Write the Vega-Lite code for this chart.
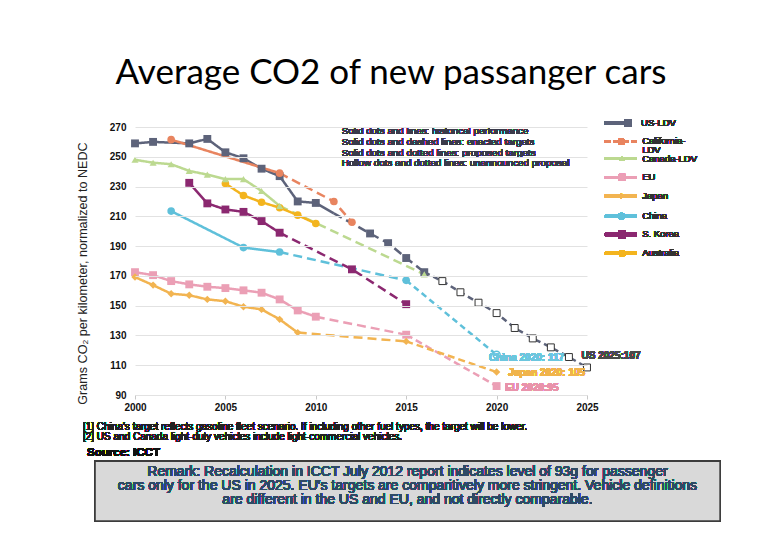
{
  "$schema": "https://vega.github.io/schema/vega-lite/v6.json",
  "width": 452,
  "height": 268,
  "autosize": {"type": "none"},
  "padding": {"left": 135, "top": 127, "right": 193, "bottom": 145},
  "background": "white",
  "config": {"view": {"stroke": null}, "font": "Arial",
             "axis": {"labelFont": "Arial", "labelFontWeight": "bold", "labelFontSize": 10, "labelColor": "#111111", "labelOverlap": false, "labelBound": false, "labelFlush": false, "titleFont": "Arial"}},
  "title": {"text": "Average CO2 of new passanger cars", "font": "Lato", "fontSize": 35, "fontWeight": "normal", "color": "#000000", "anchor": "middle", "dx": 30, "offset": 27},
  "datasets": {
    "d": [
      {"s":"US-LDV","yr":2000,"v":259,"st":"historical","pt":1},
      {"s":"US-LDV","yr":2001,"v":260,"st":"historical","pt":1},
      {"s":"US-LDV","yr":2003,"v":259,"st":"historical","pt":1},
      {"s":"US-LDV","yr":2004,"v":262,"st":"historical","pt":1},
      {"s":"US-LDV","yr":2005,"v":253,"st":"historical","pt":1},
      {"s":"US-LDV","yr":2006,"v":249,"st":"historical","pt":1},
      {"s":"US-LDV","yr":2007,"v":242,"st":"historical","pt":1},
      {"s":"US-LDV","yr":2008,"v":237,"st":"historical","pt":1},
      {"s":"US-LDV","yr":2009,"v":220,"st":"historical","pt":1},
      {"s":"US-LDV","yr":2010,"v":219,"st":"historical","pt":1},
      {"s":"US-LDV","yr":2011,"v":212,"st":"historical","pt":0},
      {"s":"US-LDV","yr":2011,"v":212,"st":"enacted","pt":0},
      {"s":"US-LDV","yr":2013,"v":198.5,"st":"enacted","pt":1},
      {"s":"US-LDV","yr":2014,"v":192,"st":"enacted","pt":1},
      {"s":"US-LDV","yr":2015,"v":182,"st":"enacted","pt":1},
      {"s":"US-LDV","yr":2016,"v":172.5,"st":"enacted","pt":1},
      {"s":"US-LDV","yr":2016,"v":172.5,"st":"unannounced","pt":0},
      {"s":"US-LDV","yr":2017,"v":166.5,"st":"unannounced","pt":1},
      {"s":"US-LDV","yr":2018,"v":159,"st":"unannounced","pt":1},
      {"s":"US-LDV","yr":2019,"v":152,"st":"unannounced","pt":1},
      {"s":"US-LDV","yr":2020,"v":145,"st":"unannounced","pt":1},
      {"s":"US-LDV","yr":2021,"v":135,"st":"unannounced","pt":1},
      {"s":"US-LDV","yr":2022,"v":128,"st":"unannounced","pt":1},
      {"s":"US-LDV","yr":2023,"v":122,"st":"unannounced","pt":1},
      {"s":"US-LDV","yr":2024,"v":115.5,"st":"unannounced","pt":1},
      {"s":"US-LDV","yr":2025,"v":108.5,"st":"unannounced","pt":1},
      {"s":"California-LDV","yr":2002,"v":261.5,"st":"historical","pt":1},
      {"s":"California-LDV","yr":2008,"v":239,"st":"historical","pt":1},
      {"s":"California-LDV","yr":2008,"v":239,"st":"enacted","pt":0},
      {"s":"California-LDV","yr":2011,"v":220,"st":"enacted","pt":1},
      {"s":"California-LDV","yr":2012,"v":206,"st":"enacted","pt":1},
      {"s":"Canada-LDV","yr":2000,"v":248,"st":"historical","pt":1},
      {"s":"Canada-LDV","yr":2001,"v":246,"st":"historical","pt":1},
      {"s":"Canada-LDV","yr":2002,"v":245,"st":"historical","pt":1},
      {"s":"Canada-LDV","yr":2003,"v":240.5,"st":"historical","pt":1},
      {"s":"Canada-LDV","yr":2004,"v":238,"st":"historical","pt":1},
      {"s":"Canada-LDV","yr":2005,"v":235,"st":"historical","pt":1},
      {"s":"Canada-LDV","yr":2006,"v":235,"st":"historical","pt":1},
      {"s":"Canada-LDV","yr":2007,"v":227,"st":"historical","pt":1},
      {"s":"Canada-LDV","yr":2008,"v":217,"st":"historical","pt":1},
      {"s":"Canada-LDV","yr":2008,"v":217,"st":"enacted","pt":0},
      {"s":"Canada-LDV","yr":2016,"v":171,"st":"enacted","pt":1},
      {"s":"EU","yr":2000,"v":172.5,"st":"historical","pt":1},
      {"s":"EU","yr":2001,"v":170.5,"st":"historical","pt":1},
      {"s":"EU","yr":2002,"v":166.5,"st":"historical","pt":1},
      {"s":"EU","yr":2003,"v":164.3,"st":"historical","pt":1},
      {"s":"EU","yr":2004,"v":162.7,"st":"historical","pt":1},
      {"s":"EU","yr":2005,"v":161.8,"st":"historical","pt":1},
      {"s":"EU","yr":2006,"v":160.3,"st":"historical","pt":1},
      {"s":"EU","yr":2007,"v":158.7,"st":"historical","pt":1},
      {"s":"EU","yr":2008,"v":154.2,"st":"historical","pt":1},
      {"s":"EU","yr":2009,"v":146.8,"st":"historical","pt":1},
      {"s":"EU","yr":2010,"v":142.6,"st":"historical","pt":1},
      {"s":"EU","yr":2010,"v":142.6,"st":"enacted","pt":0},
      {"s":"EU","yr":2015,"v":130.5,"st":"enacted","pt":1},
      {"s":"EU","yr":2015,"v":130.5,"st":"proposed","pt":0},
      {"s":"EU","yr":2020,"v":96,"st":"proposed","pt":1},
      {"s":"Japan","yr":2000,"v":169.2,"st":"historical","pt":1},
      {"s":"Japan","yr":2001,"v":163.8,"st":"historical","pt":1},
      {"s":"Japan","yr":2002,"v":158,"st":"historical","pt":1},
      {"s":"Japan","yr":2003,"v":157,"st":"historical","pt":1},
      {"s":"Japan","yr":2004,"v":154.2,"st":"historical","pt":1},
      {"s":"Japan","yr":2005,"v":153,"st":"historical","pt":1},
      {"s":"Japan","yr":2006,"v":149.3,"st":"historical","pt":1},
      {"s":"Japan","yr":2007,"v":147.5,"st":"historical","pt":1},
      {"s":"Japan","yr":2008,"v":140.8,"st":"historical","pt":1},
      {"s":"Japan","yr":2009,"v":131.9,"st":"historical","pt":1},
      {"s":"Japan","yr":2009,"v":131.9,"st":"enacted","pt":0},
      {"s":"Japan","yr":2015,"v":126,"st":"enacted","pt":1},
      {"s":"Japan","yr":2015,"v":126,"st":"proposed","pt":0},
      {"s":"Japan","yr":2020,"v":105.4,"st":"proposed","pt":1},
      {"s":"China","yr":2002,"v":213.5,"st":"historical","pt":1},
      {"s":"China","yr":2006,"v":189,"st":"historical","pt":1},
      {"s":"China","yr":2008,"v":186,"st":"historical","pt":1},
      {"s":"China","yr":2008,"v":186,"st":"enacted","pt":0},
      {"s":"China","yr":2015,"v":167,"st":"enacted","pt":1},
      {"s":"China","yr":2015,"v":167,"st":"unannounced","pt":0},
      {"s":"China","yr":2020,"v":117,"st":"unannounced","pt":1},
      {"s":"S. Korea","yr":2003,"v":232.5,"st":"historical","pt":1},
      {"s":"S. Korea","yr":2004,"v":218.7,"st":"historical","pt":1},
      {"s":"S. Korea","yr":2005,"v":214.6,"st":"historical","pt":1},
      {"s":"S. Korea","yr":2006,"v":213,"st":"historical","pt":1},
      {"s":"S. Korea","yr":2007,"v":206.8,"st":"historical","pt":1},
      {"s":"S. Korea","yr":2008,"v":199,"st":"historical","pt":1},
      {"s":"S. Korea","yr":2008,"v":199,"st":"enacted","pt":0},
      {"s":"S. Korea","yr":2012,"v":174.4,"st":"enacted","pt":1},
      {"s":"S. Korea","yr":2015,"v":151,"st":"enacted","pt":1},
      {"s":"Australia","yr":2005,"v":232,"st":"historical","pt":1},
      {"s":"Australia","yr":2006,"v":224,"st":"historical","pt":1},
      {"s":"Australia","yr":2007,"v":219.5,"st":"historical","pt":1},
      {"s":"Australia","yr":2008,"v":215.8,"st":"historical","pt":1},
      {"s":"Australia","yr":2009,"v":210.8,"st":"historical","pt":1},
      {"s":"Australia","yr":2010,"v":205.2,"st":"historical","pt":1}
    ]
  },
  "data": {"name": "d"},
  "layer": [
    {
      "mark": {"type": "line", "strokeWidth": 2.5},
      "encoding": {
        "x": {"field": "yr", "type": "quantitative", "scale": {"domain": [2000, 2025], "nice": false, "zero": false},
              "axis": {"tickCount": 5, "format": "d", "grid": false, "title": null, "domainColor": "#c8c8c8", "tickColor": "#c8c8c8", "tickSize": 4, "labelPadding": 3}},
        "y": {"field": "v", "type": "quantitative", "scale": {"domain": [90, 270], "nice": false, "zero": false},
              "axis": {"values": [90, 110, 130, 150, 170, 190, 210, 230, 250, 270], "tickCount": 12, "labelOverlap": false, "grid": true, "gridColor": "#e2e2e2", "domain": false, "ticks": false, "labelPadding": 9, "zindex": 1,
                       "title": "Grams CO₂ per kilometer, normalized to NEDC", "titleFontSize": 12.6, "titleFontWeight": "normal", "titleColor": "#222222", "titleX": -53, "titleY": 146, "titleBaseline": "middle"}},
        "stroke": {"field": "s", "type": "nominal", "legend": null,
                   "scale": {"domain": ["US-LDV","California-LDV","Canada-LDV","EU","Japan","China","S. Korea","Australia"], "range": ["#5d637a","#e8845f","#bcd990","#eb9fb5","#f2b451","#5fc0da","#8b2870","#f3b41e"]}},
        "strokeDash": {"field": "st", "type": "nominal", "legend": null,
                       "scale": {"domain": ["historical","enacted","proposed","unannounced"], "range": [[1,0],[9,5],[7,4],[6,4]]}}
      }
    },
    {
      "transform": [{"filter": "datum.pt == 1 && datum.st != 'unannounced' && indexof(['US-LDV','EU','S. Korea'], datum.s) >= 0"}],
      "mark": {"type": "point", "shape": "square", "filled": true, "size": 62, "opacity": 1},
      "encoding": {"x": {"field": "yr", "type": "quantitative"}, "y": {"field": "v", "type": "quantitative"},
                   "fill": {"field": "s", "type": "nominal", "legend": null, "scale": {"domain": ["US-LDV","California-LDV","Canada-LDV","EU","Japan","China","S. Korea","Australia"], "range": ["#5d637a","#e8845f","#bcd990","#eb9fb5","#f2b451","#5fc0da","#8b2870","#f3b41e"]}}}
    },
    {
      "transform": [{"filter": "datum.pt == 1 && datum.st != 'unannounced' && indexof(['California-LDV','China','Australia'], datum.s) >= 0"}],
      "mark": {"type": "point", "shape": "circle", "filled": true, "size": 58, "opacity": 1},
      "encoding": {"x": {"field": "yr", "type": "quantitative"}, "y": {"field": "v", "type": "quantitative"},
                   "fill": {"field": "s", "type": "nominal", "legend": null}}
    },
    {
      "transform": [{"filter": "datum.pt == 1 && datum.s == 'Canada-LDV'"}],
      "mark": {"type": "point", "shape": "triangle-up", "filled": true, "size": 50, "opacity": 1},
      "encoding": {"x": {"field": "yr", "type": "quantitative"}, "y": {"field": "v", "type": "quantitative"},
                   "fill": {"field": "s", "type": "nominal", "legend": null}}
    },
    {
      "transform": [{"filter": "datum.pt == 1 && datum.s == 'Japan'"}],
      "mark": {"type": "point", "shape": "diamond", "filled": true, "size": 55, "opacity": 1},
      "encoding": {"x": {"field": "yr", "type": "quantitative"}, "y": {"field": "v", "type": "quantitative"},
                   "fill": {"field": "s", "type": "nominal", "legend": null}}
    },
    {
      "transform": [{"filter": "datum.pt == 1 && datum.st == 'unannounced' && datum.s == 'US-LDV'"}],
      "mark": {"type": "point", "shape": "square", "filled": false, "fill": "white", "stroke": "#333333", "strokeWidth": 1, "size": 48, "opacity": 1},
      "encoding": {"x": {"field": "yr", "type": "quantitative"}, "y": {"field": "v", "type": "quantitative"}}
    },
    {
      "transform": [{"filter": "datum.pt == 1 && datum.st == 'unannounced' && datum.s == 'China'"}],
      "mark": {"type": "point", "shape": "circle", "filled": false, "fill": "white", "strokeWidth": 1.5, "size": 50, "opacity": 1},
      "encoding": {"x": {"field": "yr", "type": "quantitative"}, "y": {"field": "v", "type": "quantitative"},
                   "stroke": {"field": "s", "type": "nominal", "legend": null}}
    },
    {
      "mark": {"type": "text", "text": "China 2020: 117", "align": "left", "baseline": "middle", "font": "Arial", "fontWeight": "bold", "fontSize": 10, "color": "#6cc6de"},
      "encoding": {"x": {"datum": 2019.58}, "y": {"datum": 114.6}}
    },
    {
      "mark": {"type": "text", "text": "Japan 2020: 105", "align": "left", "baseline": "middle", "font": "Arial", "fontWeight": "bold", "fontSize": 10, "color": "#f0b44c"},
      "encoding": {"x": {"datum": 2020.65}, "y": {"datum": 105}}
    },
    {
      "mark": {"type": "text", "text": "EU 2020:95", "align": "left", "baseline": "middle", "font": "Arial", "fontWeight": "bold", "fontSize": 10, "color": "#e993ab"},
      "encoding": {"x": {"datum": 2020.47}, "y": {"datum": 95}}
    },
    {
      "mark": {"type": "text", "text": "US 2025:107", "align": "left", "baseline": "middle", "font": "Arial", "fontWeight": "bold", "fontSize": 10, "color": "#4a4a4a"},
      "encoding": {"x": {"datum": 2024.7}, "y": {"datum": 116.2}}
    },
    {
      "mark": {"type": "text", "text": ["Solid dots and lines: historical performance", "Solid dots and dashed lines: enacted targets", "Solid dots and dotted lines: proposed targets", "Hollow dots and dotted lines: unannounced proposal"], "align": "left", "baseline": "alphabetic", "lineHeight": 10.8, "font": "Arial", "fontSize": 9.8, "color": "#3a3a4a"},
      "encoding": {"x": {"datum": 2011.43}, "y": {"datum": 265.3}}
    },
    {
      "mark": {"type": "text", "text": ["[1] China's target reflects gasoline fleet scenario. If including other fuel types, the target will be lower.", "[2] US and Canada light-duty vehicles include light-commercial vehicles."], "align": "left", "baseline": "alphabetic", "lineHeight": 10, "font": "Arial", "fontSize": 10, "color": "#222222"},
      "encoding": {"x": {"datum": 1997.12}, "y": {"datum": 66.5}}
    },
    {
      "mark": {"type": "text", "text": "Source: ICCT", "align": "left", "baseline": "alphabetic", "font": "Arial", "fontWeight": "bold", "fontSize": 11.5, "color": "#111111"},
      "encoding": {"x": {"datum": 1997.35}, "y": {"datum": 48.7}}
    },
    {
      "mark": {"type": "rect", "fill": "#d9d9d9", "stroke": "#3c3c3c", "strokeWidth": 1.5},
      "encoding": {"x": {"datum": 1997.79}, "x2": {"datum": 2032.36}, "y": {"datum": 45.5}, "y2": {"datum": 5.3}}
    },
    {
      "mark": {"type": "text", "text": ["Remark: Recalculation in ICCT July 2012 report indicates level of 93g for passenger", "cars only for the US in 2025. EU's targets are comparitively more stringent. Vehicle definitions", "are different in the US and EU, and not directly comparable."], "align": "center", "baseline": "alphabetic", "lineHeight": 14.2, "font": "Arial", "fontSize": 14, "color": "#2e4a66"},
      "encoding": {"x": {"datum": 2015.07}, "y": {"datum": 35.6}}
    },
    {"mark": {"type": "rule", "color": "#5d637a", "strokeWidth": 3}, "encoding": {"x": {"datum": 2025.99}, "x2": {"datum": 2027.3}, "y": {"datum": 272.75}}},
    {"mark": {"type": "rule", "color": "#e8845f", "strokeWidth": 3, "strokeDash": [6, 3]}, "encoding": {"x": {"datum": 2025.99}, "x2": {"datum": 2027.76}, "y": {"datum": 260.3}}},
    {"mark": {"type": "rule", "color": "#bcd990", "strokeWidth": 3}, "encoding": {"x": {"datum": 2025.99}, "x2": {"datum": 2027.76}, "y": {"datum": 248.8}}},
    {"mark": {"type": "rule", "color": "#eb9fb5", "strokeWidth": 3}, "encoding": {"x": {"datum": 2025.99}, "x2": {"datum": 2027.76}, "y": {"datum": 236.1}}},
    {"mark": {"type": "rule", "color": "#f2b451", "strokeWidth": 3}, "encoding": {"x": {"datum": 2025.99}, "x2": {"datum": 2027.76}, "y": {"datum": 223.7}}},
    {"mark": {"type": "rule", "color": "#5fc0da", "strokeWidth": 3}, "encoding": {"x": {"datum": 2025.99}, "x2": {"datum": 2027.76}, "y": {"datum": 210.1}}},
    {"mark": {"type": "rule", "color": "#8b2870", "strokeWidth": 3.5}, "encoding": {"x": {"datum": 2025.99}, "x2": {"datum": 2027.76}, "y": {"datum": 197.8}}},
    {"mark": {"type": "rule", "color": "#f3b41e", "strokeWidth": 3}, "encoding": {"x": {"datum": 2025.99}, "x2": {"datum": 2027.76}, "y": {"datum": 185.2}}},
    {"mark": {"type": "point", "shape": "square", "filled": true, "size": 55, "opacity": 1, "color": "#5d637a"}, "encoding": {"x": {"datum": 2027.27}, "y": {"datum": 272.75}}},
    {"mark": {"type": "point", "shape": "circle", "filled": true, "size": 50, "opacity": 1, "color": "#e8845f"}, "encoding": {"x": {"datum": 2026.9}, "y": {"datum": 260.3}}},
    {"mark": {"type": "point", "shape": "triangle-up", "filled": true, "size": 30, "opacity": 1, "color": "#bcd990"}, "encoding": {"x": {"datum": 2026.94}, "y": {"datum": 248.8}}},
    {"mark": {"type": "point", "shape": "square", "filled": true, "size": 50, "opacity": 1, "color": "#eb9fb5"}, "encoding": {"x": {"datum": 2026.94}, "y": {"datum": 236.1}}},
    {"mark": {"type": "point", "shape": "diamond", "filled": true, "size": 30, "opacity": 1, "color": "#f2b451"}, "encoding": {"x": {"datum": 2026.9}, "y": {"datum": 223.7}}},
    {"mark": {"type": "point", "shape": "circle", "filled": true, "size": 45, "opacity": 1, "color": "#5fc0da"}, "encoding": {"x": {"datum": 2026.9}, "y": {"datum": 210.1}}},
    {"mark": {"type": "point", "shape": "square", "filled": true, "size": 55, "opacity": 1, "color": "#8b2870"}, "encoding": {"x": {"datum": 2026.94}, "y": {"datum": 197.8}}},
    {"mark": {"type": "point", "shape": "circle", "filled": true, "size": 45, "opacity": 1, "color": "#f3b41e"}, "encoding": {"x": {"datum": 2026.94}, "y": {"datum": 185.2}}},
    {"mark": {"type": "text", "text": "US-LDV", "align": "left", "baseline": "middle", "font": "Arial", "fontSize": 9.5, "color": "#333333"}, "encoding": {"x": {"datum": 2027.99}, "y": {"datum": 272.75}}},
    {"mark": {"type": "text", "text": "California-", "align": "left", "baseline": "middle", "font": "Arial", "fontSize": 9.5, "color": "#333333"}, "encoding": {"x": {"datum": 2028.05}, "y": {"datum": 260.3}}},
    {"mark": {"type": "text", "text": "LDV", "align": "left", "baseline": "middle", "font": "Arial", "fontSize": 9.5, "color": "#333333"}, "encoding": {"x": {"datum": 2028.05}, "y": {"datum": 254.55}}},
    {"mark": {"type": "text", "text": "Canada-LDV", "align": "left", "baseline": "middle", "font": "Arial", "fontSize": 9.5, "color": "#333333"}, "encoding": {"x": {"datum": 2028.05}, "y": {"datum": 248.8}}},
    {"mark": {"type": "text", "text": "EU", "align": "left", "baseline": "middle", "font": "Arial", "fontSize": 9.5, "color": "#333333"}, "encoding": {"x": {"datum": 2028.05}, "y": {"datum": 236.1}}},
    {"mark": {"type": "text", "text": "Japan", "align": "left", "baseline": "middle", "font": "Arial", "fontSize": 9.5, "color": "#333333"}, "encoding": {"x": {"datum": 2028.05}, "y": {"datum": 223.7}}},
    {"mark": {"type": "text", "text": "China", "align": "left", "baseline": "middle", "font": "Arial", "fontSize": 9.5, "color": "#333333"}, "encoding": {"x": {"datum": 2028.05}, "y": {"datum": 210.1}}},
    {"mark": {"type": "text", "text": "S. Korea", "align": "left", "baseline": "middle", "font": "Arial", "fontSize": 9.5, "color": "#333333"}, "encoding": {"x": {"datum": 2028.05}, "y": {"datum": 197.8}}},
    {"mark": {"type": "text", "text": "Australia", "align": "left", "baseline": "middle", "font": "Arial", "fontSize": 9.5, "color": "#333333"}, "encoding": {"x": {"datum": 2028.05}, "y": {"datum": 185.2}}}
  ]
}
